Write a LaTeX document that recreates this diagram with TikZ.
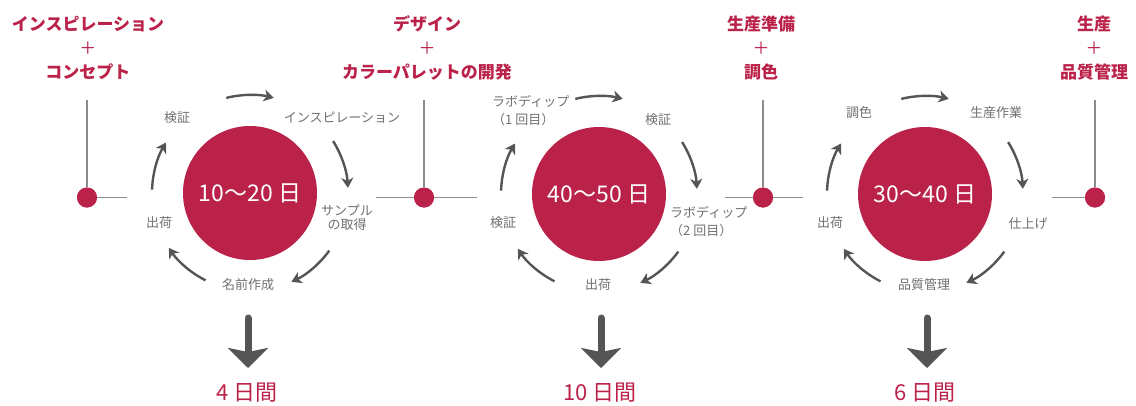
\documentclass[tikz,border=0pt]{standalone}
\usepackage{fontspec}
\setmainfont{Noto Sans CJK JP}
\usetikzlibrary{arrows.meta}
\definecolor{brand}{HTML}{BB2249}
\definecolor{labelgray}{HTML}{707070}
\definecolor{arrowgray}{HTML}{555555}
\definecolor{linegray}{HTML}{8C8C8C}

\begin{document}
\begin{tikzpicture}[x=1pt,y=1pt,
	title/.style={text=brand,font=\fontsize{17}{24}\selectfont\bfseries,align=center},
	stage/.style={text=labelgray,font=\fontsize{13}{14}\selectfont,align=center,inner sep=0pt},
	phase/.style={circle,fill=brand,minimum size=134pt,inner sep=0pt,text=white,font=\fontsize{23}{24}\selectfont},
	dot/.style={circle,fill=brand,minimum size=20pt,inner sep=0pt},
	rule/.style={draw=linegray,line width=1.3pt},
	cycle/.style={draw=arrowgray,line width=2.4pt,-{Stealth[length=10pt,width=12pt,inset=3pt]}},
	bigarrow/.style={draw=arrowgray,line width=7pt,line cap=round,-{Stealth[length=20pt,width=40pt,inset=4pt]}},
	days/.style={text=brand,font=\fontsize{22}{24}\selectfont}]
	\useasboundingbox (0,0) rectangle (1136,-405);

	% milestones
	\node (insp) at (88,-48) [title] {インスピレーション\\{\mdseries ＋}\\コンセプト};
	\node (design) at (427,-48) [title] {デザイン\\{\mdseries ＋}\\カラーパレットの開発};
	\node (prep) at (761,-48) [title] {生産準備\\{\mdseries ＋}\\調色};
	\node (prod) at (1094,-48) [title] {生産\\{\mdseries ＋}\\品質管理};

	\node (d1) at (87,-197.5) [dot] {};
	\node (d2) at (424,-197.5) [dot] {};
	\node (d3) at (763,-197.5) [dot] {};
	\node (d4) at (1095,-197.5) [dot] {};
	\coordinate (t1) at (87,-100);
	\coordinate (t2) at (424,-100);
	\coordinate (t3) at (763,-100);
	\coordinate (t4) at (1095,-100);
	\coordinate (r1) at (127,-197.5);
	\coordinate (l2) at (376,-197.5);
	\coordinate (r2) at (477,-197.5);
	\coordinate (l3) at (725,-197.5);
	\coordinate (r3) at (803,-197.5);
	\coordinate (l4) at (1052,-197.5);
	\draw [rule] (t1) -- (d1) -- (r1);
	\draw [rule] (t2) -- (d2);
	\draw [rule] (l2) -- (r2);
	\draw [rule] (t3) -- (d3);
	\draw [rule] (l3) -- (r3);
	\draw [rule] (t4) -- (d4) -- (l4);
	\fill [brand] (d1) circle (10pt) (d2) circle (10pt) (d3) circle (10pt) (d4) circle (10pt);

	% phase 1
	\node (c1) at (250,-193) [phase] {10～20 日};
	\node (check1) at (177,-118) [stage] {検証};
	\node (idea) at (342,-118) [stage] {インスピレーション};
	\node (sample) at (347,-218) [stage] {サンプル\\の取得};
	\node (naming) at (248,-285) [stage] {名前作成};
	\node (ship1) at (159,-223) [stage] {出荷};
	\draw [cycle] ([shift={(104:98)}]c1.center) arc[start angle=104,end angle=76,radius=98];
	\draw [cycle] ([shift={(32:98)}]c1.center) arc[start angle=32,end angle=3,radius=98];
	\draw [cycle] ([shift={(-36:98)}]c1.center) arc[start angle=-36,end angle=-65,radius=98];
	\draw [cycle] ([shift={(-117:98)}]c1.center) arc[start angle=-117,end angle=-146,radius=98];
	\draw [cycle] ([shift={(178:98)}]c1.center) arc[start angle=178,end angle=149,radius=98];

	% phase 2
	\node (c2) at (599,-194) [phase] {40～50 日};
	\node (dip1) at (492,-111) [stage,anchor=west,align=left,font=\fontsize{13}{18}\selectfont] {ラボディップ\\（1 回目）};
	\node (check2) at (658,-120) [stage] {検証};
	\node (dip2) at (670,-222) [stage,anchor=west,align=left,font=\fontsize{13}{18}\selectfont] {ラボディップ\\（2 回目）};
	\node (ship2) at (598,-285) [stage] {出荷};
	\node (check3) at (503,-223) [stage] {検証};
	\draw [cycle] ([shift={(104:98)}]c2.center) arc[start angle=104,end angle=76,radius=98];
	\draw [cycle] ([shift={(32:98)}]c2.center) arc[start angle=32,end angle=3,radius=98];
	\draw [cycle] ([shift={(-36:98)}]c2.center) arc[start angle=-36,end angle=-65,radius=98];
	\draw [cycle] ([shift={(-117:98)}]c2.center) arc[start angle=-117,end angle=-146,radius=98];
	\draw [cycle] ([shift={(178:98)}]c2.center) arc[start angle=178,end angle=149,radius=98];

	% phase 3
	\node (c3) at (925,-194) [phase] {30～40 日};
	\node (tint) at (859,-113) [stage] {調色};
	\node (make) at (996,-113) [stage] {生産作業};
	\node (finish) at (1028,-224) [stage] {仕上げ};
	\node (qc) at (924,-285) [stage] {品質管理};
	\node (ship3) at (830,-223) [stage] {出荷};
	\draw [cycle] ([shift={(104:98)}]c3.center) arc[start angle=104,end angle=76,radius=98];
	\draw [cycle] ([shift={(32:98)}]c3.center) arc[start angle=32,end angle=3,radius=98];
	\draw [cycle] ([shift={(-36:98)}]c3.center) arc[start angle=-36,end angle=-65,radius=98];
	\draw [cycle] ([shift={(-117:98)}]c3.center) arc[start angle=-117,end angle=-146,radius=98];
	\draw [cycle] ([shift={(178:98)}]c3.center) arc[start angle=178,end angle=149,radius=98];

	% durations
	\coordinate (s1) at (248,-318);
	\coordinate (e1) at (248,-368);
	\coordinate (s2) at (601,-318);
	\coordinate (e2) at (601,-368);
	\coordinate (s3) at (927,-318);
	\coordinate (e3) at (927,-368);
	\draw [bigarrow] (s1) -- (e1);
	\draw [bigarrow] (s2) -- (e2);
	\draw [bigarrow] (s3) -- (e3);
	\node (w1) at (247,-393) [days] {4 日間};
	\node (w2) at (600,-393) [days] {10 日間};
	\node (w3) at (925,-393) [days] {6 日間};
\end{tikzpicture}
\end{document}
